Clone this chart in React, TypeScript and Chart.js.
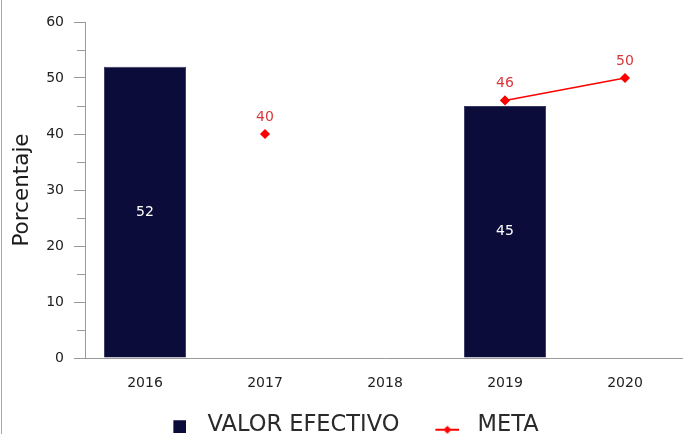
import React, { useEffect, useRef } from "react";
import { Chart, registerables } from "chart.js";

Chart.register(...registerables);

const categories = ["2016", "2017", "2018", "2019", "2020"];
const valorEfectivo = [52, null, null, 45, null];
const meta = [null, 40, null, 46, 50];
const yMin = 0;
const yMax = 60;
const yStep = 10;
const minorTicks = [5, 15, 25, 35, 45, 55];

const NAVY = "#0b0c3a";
const RED = "#ff0000";
const FONT = "'DejaVu Sans', sans-serif";

function makeBarMarker() {
  const c = document.createElement("canvas");
  c.width = 27;
  c.height = 17;
  const g = c.getContext("2d")!;
  g.fillStyle = NAVY;
  g.fillRect(14, 4, 13, 13);
  return c;
}

function makeLineMarker() {
  const c = document.createElement("canvas");
  c.width = 33;
  c.height = 20;
  const g = c.getContext("2d")!;
  g.strokeStyle = RED;
  g.lineWidth = 2;
  g.beginPath();
  g.moveTo(9, 15);
  g.lineTo(33, 15);
  g.stroke();
  g.fillStyle = RED;
  g.beginPath();
  g.moveTo(21, 11);
  g.lineTo(25, 15);
  g.lineTo(21, 19);
  g.lineTo(17, 15);
  g.closePath();
  g.fill();
  return c;
}

const valueLabels = {
  id: "valueLabels",
  afterDatasetsDraw(chart: any) {
    const ctx = chart.ctx;
    ctx.save();
    ctx.font = `14px ${FONT}`;
    ctx.textAlign = "center";
    ctx.textBaseline = "middle";
    chart.data.datasets.forEach((ds: any, i: number) => {
      const m = chart.getDatasetMeta(i);
      m.data.forEach((el: any, j: number) => {
        const v = ds.data[j];
        if (v == null) return;
        if (ds.type === "bar") {
          ctx.fillStyle = "#ffffff";
          ctx.fillText(String(v), el.x, (el.y + el.base) / 2);
        } else {
          ctx.fillStyle = "#d8383c";
          ctx.fillText(String(v), el.x, el.y - 17);
        }
      });
    });
    ctx.restore();
  },
};

const minorTickPlugin = {
  id: "minorTicks",
  afterDraw(chart: any) {
    const s = chart.scales.y;
    const ctx = chart.ctx;
    ctx.save();
    ctx.strokeStyle = "#9a9a9a";
    ctx.lineWidth = 1;
    minorTicks.forEach((v) => {
      const y = Math.round(s.getPixelForValue(v)) + 0.5;
      ctx.beginPath();
      ctx.moveTo(s.right - 8, y);
      ctx.lineTo(s.right, y);
      ctx.stroke();
    });
    ctx.restore();
  },
};

export default function App() {
  const ref = useRef<HTMLCanvasElement>(null);

  useEffect(() => {
    if (!ref.current) return;
    const barMarker = makeBarMarker();
    const lineMarker = makeLineMarker();
    const chart = new Chart(ref.current, {
      type: "bar",
      data: {
        labels: categories,
        datasets: [
          {
            type: "line",
            label: "META",
            data: meta,
            borderColor: RED,
            backgroundColor: RED,
            borderWidth: 1.5,
            pointStyle: "rectRot",
            pointRadius: 4,
            pointBackgroundColor: RED,
            pointBorderColor: RED,
            spanGaps: false,
            order: 0,
          } as any,
          {
            type: "bar",
            label: "VALOR EFECTIVO",
            data: valorEfectivo,
            backgroundColor: NAVY,
            borderColor: "#3a3b62",
            borderWidth: 1,
            categoryPercentage: 0.76,
            barPercentage: 0.9,
            order: 1,
          } as any,
        ],
      },
      options: {
        animation: false,
        responsive: false,
        maintainAspectRatio: false,
        layout: { padding: { top: 22, right: 15, left: 3, bottom: 0 } },
        plugins: {
          tooltip: { enabled: false },
          legend: {
            position: "bottom",
            labels: {
              font: { family: FONT, size: 22.5 },
              color: "#2a2a2a",
              usePointStyle: true,
              pointStyleWidth: 47,
              padding: 20,
              generateLabels: () => [
                {
                  text: "VALOR EFECTIVO",
                  pointStyle: barMarker,
                  fillStyle: NAVY,
                  strokeStyle: NAVY,
                  lineWidth: 0,
                  hidden: false,
                  datasetIndex: 1,
                  fontColor: "#2a2a2a",
                } as any,
                {
                  text: "META",
                  pointStyle: lineMarker,
                  fillStyle: RED,
                  strokeStyle: RED,
                  lineWidth: 0,
                  hidden: false,
                  datasetIndex: 0,
                  fontColor: "#2a2a2a",
                } as any,
              ],
            },
          },
        },
        scales: {
          x: {
            grid: { display: false, drawTicks: false },
            border: { display: true, color: "#9a9a9a", width: 1 },
            ticks: { font: { family: FONT, size: 14 }, color: "#222222", padding: 17 },
            afterFit: (s: any) => {
              s.height = 35.5;
            },
          },
          y: {
            min: yMin,
            max: yMax,
            ticks: { stepSize: yStep, font: { family: FONT, size: 14 }, color: "#222222", padding: 10 },
            grid: { drawOnChartArea: false, tickLength: 11, color: "#9a9a9a" },
            border: { display: true, color: "#9a9a9a", width: 1 },
            title: {
              display: true,
              text: "Porcentaje",
              font: { family: FONT, size: 21.5 },
              color: "#1a1a1a",
              padding: { top: 7, bottom: 0 },
            },
            afterFit: (s: any) => {
              s.width = 82;
            },
          },
        },
      },
      plugins: [valueLabels, minorTickPlugin],
    });
    return () => chart.destroy();
  }, []);

  return (
    <div
      style={{
        position: "fixed",
        left: 0,
        top: 0,
        width: 683,
        height: 434,
        overflow: "hidden",
        background: "#ffffff",
      }}
    >
      <canvas ref={ref} width={700} height={446} style={{ display: "block" }} />
      <div
        style={{
          position: "absolute",
          left: 1,
          top: 0,
          width: 1,
          height: 434,
          background: "#a8a8a8",
        }}
      />
    </div>
  );
}
